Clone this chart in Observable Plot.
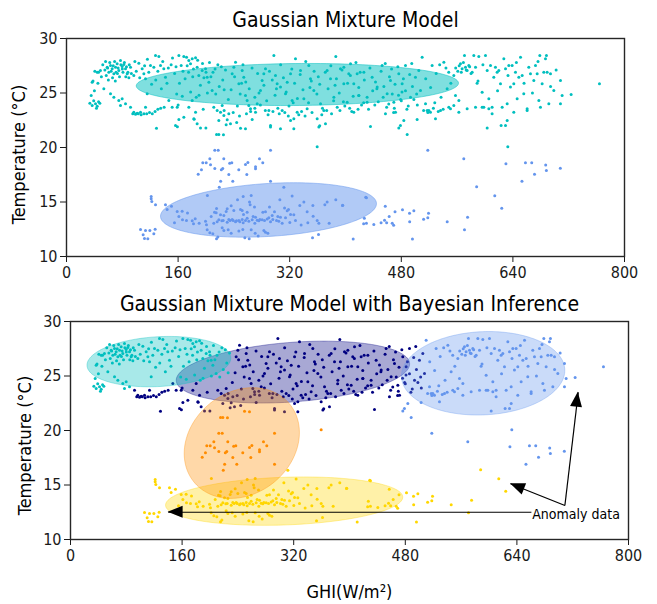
<!DOCTYPE html>
<html><head><meta charset="utf-8">
<script src="https://cdn.jsdelivr.net/npm/d3@7"></script>
<script src="https://cdn.jsdelivr.net/npm/@observablehq/plot@0.6"></script>
<style>
body{margin:0;background:#fff;}
#wrap{position:relative;width:657px;height:604px;overflow:hidden;}
#wrap > div{position:absolute;left:0;}
#wrap svg{font-stretch:condensed;}
</style></head><body><div id="wrap"><div id="p1" style="top:0"></div><div id="p2" style="top:290px"></div></div>
<script>
// ---- axis ticks ----
const xTicks = [0, 160, 320, 480, 640, 800];
const yTicks = [10, 15, 20, 25, 30];
const title1 = "Gaussian Mixture Model";
const title2 = "Gaussian Mixture Model with Bayesian Inference";
const xLabel = "GHI(W/m²)";
const yLabel = "Temperature (°C)";
const annotationText = "Anomaly data";

// ---- observations [GHI, temperature], grouped by the 5-component (Bayesian) assignment ----
const cyanPts = [[36.8,25.99],[35.4,24.77],[33.5,24.07],[36.8,23.85],[41.6,24.01],[44.0,23.79],[47.8,24.07],[40.6,27.0],[44.0,26.91],[48.7,27.06],[58.3,27.37],[60.7,26.91],[63.1,27.52],[65.5,27.22],[67.9,26.76],[70.3,27.37],[72.6,27.68],[75.0,27.06],[77.4,27.98],[79.8,27.43],[82.2,27.62],[84.6,27.22],[87.0,26.76],[89.4,26.39],[91.8,27.37],[96.5,26.61],[103.7,27.74],[108.5,27.22],[110.9,26.76],[113.3,26.3],[53.5,25.38],[63.1,24.92],[67.9,24.62],[75.0,24.31],[77.4,23.85],[79.8,24.47],[84.6,24.01],[115.7,24.92],[120.4,27.52],[125.2,27.37],[127.6,28.44],[132.4,28.35],[134.8,27.52],[139.5,27.22],[141.9,26.45],[161.1,28.44],[164.4,27.52],[168.2,28.35],[172.1,28.29],[175.4,27.98],[177.8,27.68],[180.2,28.14],[185.0,28.23],[187.3,27.37],[189.7,26.61],[194.5,27.06],[199.3,27.22],[201.7,26.45],[204.1,25.99],[208.8,25.23],[155,26.8],[162,25.9],[170,26.3],[178,25.1],[186,24.6],[192,25.7],[205,27.8],[210,26.9],[214,24.9],[219,25.6],[224,26.2],[228,27.1],[175,26.9],[182,27.2],[202,25.0],[217,27.6],[55,27.1],[57,26.6],[62,27.8],[66,26.4],[69,27.9],[71,26.9],[74,27.3],[76,26.5],[78,27.6],[81,26.9],[83,27.8],[86,27.4],[88,26.9],[93,26.8],[60,26.2],[70,26.1],[50,26.5],[46,26.9],[98,27.9],[105,26.4],[118,26.9],[122,25.8],[128,26.2],[136,25.4],[144,25.9],[150,27.6],[158,24.9],[166,24.7],[190,24.8],[197,26.4],[43,23.6],[39,24.3],[46,24.2],[38,26.1],[40,25.2],[45,25.9],[52,27.6],[56,27.9],[59,27.3],[64,27.0],[67,27.5],[73,26.8],[80,27.2],[85,26.5],[90,27.6],[100,27.0],[112,27.5],[116,28.1],[131,27.0],[138,27.9],[146,27.3],[152,28.2],[157,27.4],[167,27.0],[173,27.5],[181,26.5],[188,28.0],[195,27.7],[200,26.9],[207,26.5],[213,27.2],[222,27.4],[226,25.3]];

const navyPts = [[91.8,23.7],[95,23.1],[96.5,23.24],[99,23.05],[101.3,23.15],[103,23.1],[106.1,23.24],[107,23.0],[111,23.1],[113.3,23.7],[115,23.1],[119,23.2],[123,23.1],[127,23.3],[131,23.5],[135,23.6],[140,23.7],[146.7,24.31],[151.5,23.7],[158.7,23.7],[129.0,21.77],[156.3,22.02],[161.1,22.57],[168.2,22.78],[175.4,23.7],[180.2,24.31],[182.6,22.63],[187.3,22.17],[192.1,21.8],[199.8,21.8],[185.0,23.24],[211.2,23.7],[216.0,23.4],[218.4,22.48],[220.8,23.24],[223.2,23.85],[225.6,22.94],[228.9,22.08],[230.4,22.54],[232.7,23.09],[235.1,22.17],[237.5,26.76],[239.9,27.37],[242.3,27.83],[247.1,25.84],[251.9,27.06],[254.2,26.45],[256.6,24.77],[259.0,24.31],[261.4,23.85],[263.8,23.55],[266.2,22.57],[271.0,23.24],[273.4,24.01],[278.1,25.23],[280.5,26.15],[282.9,26.76],[285.3,27.22],[290.1,23.4],[292.5,22.02],[297.3,28.44],[299.6,26.61],[302.0,25.84],[306.8,25.54],[309.2,23.4],[314.0,24.92],[316.4,25.99],[321.2,26.76],[323.5,24.31],[325.9,22.63],[328.3,28.14],[330.7,23.24],[335.5,27.06],[340.3,24.47],[345.0,23.55],[347.4,27.52],[349.8,26.3],[354.6,25.23],[359.4,22.63],[361.8,21.87],[364.2,24.01],[368.9,23.4],[371.3,22.17],[373.7,27.06],[378.5,26.3],[383.3,24.62],[386.1,28.35],[388.1,23.7],[392.8,27.22],[397.6,25.84],[402.4,24.16],[407.2,27.68],[411.9,23.24],[416.7,26.76],[419.1,24.77],[292.5,21.87],[306.8,21.71],[325.9,21.71],[321.2,22.48],[232,24.4],[236,25.3],[241,26.5],[245,23.8],[249,24.9],[253,27.6],[257,26.0],[262,25.4],[266,27.3],[270,24.6],[274,26.8],[278,23.9],[283,25.7],[287,24.3],[291,27.0],[295,26.2],[299,24.8],[303,23.6],[307,27.6],[311,26.4],[315,25.1],[319,23.8],[323,27.2],[327,25.9],[331,24.5],[335,26.7],[339,25.3],[343,27.9],[347,24.1],[351,26.1],[355,27.0],[359,24.9],[363,25.8],[367,23.6],[371,26.9],[375,25.4],[379,27.5],[383,24.3],[387,26.3],[391,25.0],[395,27.1],[399,23.8],[403,25.9],[407,26.6],[411,24.7],[415,27.8],[419,25.5],[423,23.9],[427,26.2],[431,24.6],[435,27.3],[439,25.2],[443,26.0],[447,24.2],[451,27.0],[455,25.6],[459,23.7],[463,26.5],[467,24.9],[471,25.8],[475,27.4],[479,24.4],[483,26.3],[160,23.9],[196,23.5],[226,23.4],[239,23.2],[251,25.9],[264,23.3],[276,25.0],[289,23.0],[301,25.4],[313,23.2],[325,24.1],[337,23.3],[349,25.5],[361,26.5],[373,23.4],[385,25.7],[397,24.2],[409,23.3],[421,26.9],[433,23.5],[445,25.4],[457,27.7],[469,23.2],[481,25.1],[397.6,27.37],[404.7,26.76],[411.9,25.84],[419.1,24.77],[426.3,26.91],[431.0,24.16],[438.2,26.45],[445.4,25.54],[452.5,27.52],[459.7,24.92],[464.5,26.15],[469.3,24.16],[476.4,26.76],[481.2,25.84],[486.0,27.52],[493.2,24.62],[500.3,26.45],[505.1,27.06],[507.5,25.23],[435.8,21.93],[457.3,23.09],[471.7,23.24],[462,24.0],[470,23.6],[480,24.3],[490,23.8],[498,24.4],[159,21.9],[183,22.6],[363,22.0],[486,25.2],[492,26.7],[496,25.6],[502,24.9],[488,23.5],[495,27.7],[503,23.9],[476,24.8],[466,27.2],[454,24.6],[442,23.9],[426,24.1],[418,23.5],[406,23.6],[392,23.4],[380,23.1],[366,23.0],[352,23.2],[342,22.9],[333,23.0],[318,22.9],[305,23.1],[296,23.3],[285,23.4],[270,23.6],[258,23.1],[248,22.9],[244,22.3]];

const cornflowerPts = [[509.9,28.29],[514.7,24.01],[519.4,23.4],[524.2,27.52],[529.0,22.63],[536.2,23.4],[541.0,27.83],[545.7,25.38],[550.5,23.55],[557.7,24.77],[562.5,24.31],[555.3,26.61],[564.8,27.68],[567.2,27.22],[570.6,28.44],[572.0,27.37],[574.4,27.06],[576.8,27.52],[581.6,26.91],[584.0,28.44],[586.4,27.37],[588.7,25.9],[591.1,28.35],[595.9,25.08],[598.3,23.7],[600.7,28.44],[603.1,27.06],[605.5,24.47],[607.9,27.52],[610.2,23.7],[612.6,26.45],[615.0,27.37],[617.4,26.91],[619.8,27.06],[622.2,25.84],[624.6,23.7],[627.0,28.14],[629.4,27.22],[631.8,24.01],[634.1,27.52],[636.5,25.54],[638.9,27.52],[641.3,25.84],[643.7,26.91],[646.1,24.47],[648.5,26.45],[650.9,28.29],[653.3,26.61],[655.6,24.92],[660.4,23.4],[662.8,27.37],[665.2,26.76],[670.0,26.15],[672.4,27.52],[674.8,26.76],[677.2,24.31],[678.6,28.44],[679.5,23.7],[681.9,25.84],[684.3,26.91],[686.7,28.14],[688.1,28.44],[689.1,26.91],[691.5,24.01],[693.9,26.76],[698.7,25.23],[708.2,26.15],[708.2,24.01],[710.6,24.77],[723.5,24.86],[764.1,25.84],[476.4,21.8],[478.8,22.02],[483.6,22.48],[488.4,21.19],[502.7,22.57],[517.1,23.4],[521.8,23.24],[548.1,23.7],[555.3,23.85],[562.5,23.24],[574.4,23.55],[586.4,23.7],[595.9,23.7],[603.1,21.8],[605.5,23.55],[610.2,23.09],[623.1,22.02],[629.4,22.02],[631.8,22.48],[641.3,23.24],[660.4,23.55],[558,27.3],[561,27.0],[563,27.5],[566,26.9],[569,27.8],[573,27.1],[578,27.4],[580,26.8],[512,23.4],[518,23.2],[526,23.6],[533,23.3],[540,23.5],[515,26.3],[522,25.5],[530,26.8],[537,24.6],[544,27.3],[551,25.9],[528,24.1],[535,27.6],[548,26.9],[590,26.1],[597,27.6],[618,25.2],[633,26.6],[645,27.8],[656,25.9],[668,25.0],[676,27.9],[694,25.6],[702,27.1],[518,19.75],[569.6,18.96],[630,18.5],[658,18.6],[667,18.6],[687,18.4],[688,17.9],[708,18.1],[671,17.55],[653,16.9],[632.7,20.06]];

const orangePts = [[212.6,19.75],[217.5,19.75],[205.5,18.96],[225.5,18.96],[292.5,19.75],[195.4,18.6],[200.3,18.6],[188.8,17.55],[193.5,17.95],[206.5,18.41],[212.6,18.07],[222,17.95],[224,18.07],[232.7,17.52],[234,18.56],[237,18.6],[238.4,16.9],[221,16.9],[219,16.36],[247,17.95],[256.6,18.44],[260,18.62],[258.5,17.52],[271,18.05],[271,18.23],[276.7,18.96],[281.4,18.6],[292.5,16.9],[359.4,20.06],[215.1,21.19],[218.4,21.19],[249.5,21.77],[256.6,21.71],[225,21.18]];

const goldPts = [[121.4,15.5],[121.4,15.29],[122.3,15.05],[127.6,14.74],[141.9,14.74],[150.5,14.62],[144.3,14.31],[158.7,14.13],[165.8,14.16],[161.1,13.67],[154.8,13.09],[166.3,13.37],[172.0,13.30],[173.5,13.98],[180.2,13.27],[184.5,13.46],[190.2,13.06],[199.3,13.24],[182.1,13.0],[212.2,14.07],[207.4,13.67],[214.6,14.01],[215.1,14.41],[220.8,13.82],[218.4,13.37],[222.7,13.27],[228.9,14.13],[230.4,13.15],[234.6,13.30],[237.5,13.39],[239.9,14.22],[236.1,14.65],[243.7,13.27],[245.2,15.2],[253.3,15.5],[249.5,14.31],[248.5,13.18],[253.3,13.09],[253.8,13.85],[259.0,13.52],[262.4,14.99],[263.3,14.74],[264.8,15.6],[269.5,14.53],[267.6,13.67],[270.0,13.06],[273.4,13.33],[277.2,13.39],[281.5,14.07],[285.3,14.10],[291.0,14.53],[290.1,13.55],[292.5,13.18],[295.8,13.39],[298.2,14.10],[303.0,13.67],[304.4,13.24],[305.9,15.2],[309.2,13.06],[311.6,16.36],[312.6,14.44],[316.4,14.19],[318.3,14.31],[320.2,13.12],[323.5,15.54],[325.9,13.82],[334.5,14.68],[336.4,12.88],[340.3,14.99],[345.0,14.10],[346.0,13.09],[353.2,14.68],[353.6,13.70],[359.4,13.30],[361.8,13.06],[370.4,14.74],[373.7,14.99],[376.6,13.06],[386.1,15.2],[395.7,14.68],[106.1,12.48],[109.9,11.99],[113.3,12.39],[116.6,11.62],[119.5,12.39],[125.2,12.08],[127.1,12.51],[111.8,11.65],[201.7,12.45],[205.5,12.17],[209.8,12.08],[215.1,11.62],[217.0,11.78],[223.2,12.63],[225.6,12.39],[231.8,12.45],[236.1,12.14],[247.1,12.33],[252.8,12.48],[255.7,11.71],[261.9,11.62],[264.8,12.45],[270.5,12.14],[274.8,11.87],[283.0,12.39],[285.3,12.23],[288.7,12.14],[352.7,11.71],[361.3,12.02],[200.7,12.91],[211.2,13.06],[216.0,13.18],[224.6,13.30],[232.7,13.39],[239.0,13.30],[242.3,13.18],[247.1,13.30],[251.9,13.39],[256.6,13.30],[261.4,13.24],[266.2,13.37],[275.8,13.27],[280.5,13.37],[283.9,13.30],[287.7,13.43],[301.1,13.30],[306.8,13.61],[314.0,13.55],[321.2,13.85],[328.3,13.30],[294.9,13.76],[271.0,13.61],[259.0,14.07],[251.9,14.22],[230.4,14.37],[225.6,13.76],[202,15.6],[588,16.4],[614,15.57],[624,14.43],[575,13.6],[570.6,12.45],[545.8,13.18],[519,13.97],[518,13.55],[512,13.42],[496,11.6],[498,14.2],[491.8,13.97],[492,13.18],[481.7,14.3],[471,14.1],[462.6,13.67],[457,14.6],[456,13.33],[451,13.1],[440.6,12.94],[427,13.5],[426,13.0],[430,13.05],[467,13.05],[469,12.87],[459,13.1],[429,15.44],[430,15.4],[411,11.6],[396,14.7]];

// ---- fitted Gaussian components: centre (cx, cy) and two conjugate semi-axes u, v (data units) ----
const gmmComponents = [
  {color: "#6495ED", cx: 289.6, cy: 14.27, ux: 150.6, uy: 0, vx: 35.8, vy: 2.50},
  {color: "#00BFBF", cx: 331.0, cy: 25.78, ux: 230.5, uy: 0, vx: 15.0, vy: 1.93}
];
const bgmmComponents = {
  navy:       {color: "#000080", cx: 318.9, cy: 25.36, ux: 161.3, uy: 0, vx: 44.4, vy: 2.84},
  cyan:       {color: "#00BFBF", cx: 126.7, cy: 26.32, ux: 102.0, uy: 0, vx: 14.4, vy: 2.31},
  cornflower: {color: "#6495ED", cx: 591.6, cy: 25.25, ux: 116.8, uy: 0, vx: 8.0,  vy: 3.83},
  gold:       {color: "#FFD700", cx: 306.3, cy: 13.52, ux: 167.7, uy: 0, vx: 28.0, vy: 2.22},
  orange:     {color: "#FF8C00", cx: 245.6, cy: 18.85, ux: 81.1,  uy: 0, vx: 15.6, vy: 5.08}
};

// ---- annotation arrows (data coords: from text to target) ----
const anomalyArrows = [
  {x1: 660.8, y1: 12.50, x2: 140.0, y2: 12.50},
  {x1: 708.8, y1: 13.12, x2: 630.8, y2: 15.11},
  {x1: 708.8, y1: 13.12, x2: 728.0, y2: 23.51}
];
const annotationPos = {x: 662, y: 12.25};

// ---------------------------------------------------------------
const FONT = '"DejaVu Sans Condensed", "DejaVu Sans", sans-serif';
const toRows = pts => pts.map(([x, y]) => ({x, y}));
const allPts = [...cyanPts, ...navyPts, ...cornflowerPts, ...orangePts, ...goldPts];

function ellipseOutline(e) {
  const out = [];
  const n = 160;
  for (let i = 0; i < n; i++) {
    const t = (2 * Math.PI * i) / n;
    out.push({x: e.cx + e.ux * Math.cos(t) + e.vx * Math.sin(t), y: e.cy + e.uy * Math.cos(t) + e.vy * Math.sin(t)});
  }
  return out;
}
function ellipseMark(e, alpha) {
  return Plot.line(ellipseOutline(e), {x: "x", y: "y", curve: "linear-closed", fill: e.color, fillOpacity: alpha, stroke: e.color, strokeOpacity: alpha, strokeWidth: 1});
}
function dotsMark(rows, color) {
  return Plot.dot(rows, {x: "x", y: "y", r: 1.5, fill: color, stroke: "none"});
}
function arrowHeads(arrows) {
  return (index, scales, values, dimensions, context) => {
    const ns = "http://www.w3.org/2000/svg";
    const doc = (context && context.document) || document;
    const g = doc.createElementNS(ns, "g");
    const {width, height, marginLeft, marginRight, marginTop, marginBottom} = dimensions;
    const fx = scales && scales.x ? scales.x : v => marginLeft + (v / 800) * (width - marginLeft - marginRight);
    const fy = scales && scales.y ? scales.y : v => height - marginBottom - ((v - 10) / 20) * (height - marginTop - marginBottom);
    for (const a of arrows) {
      const x1 = fx(a.x1), y1 = fy(a.y1), x2 = fx(a.x2), y2 = fy(a.y2);
      const len = Math.hypot(x2 - x1, y2 - y1), ux = (x2 - x1) / len, uy = (y2 - y1) / len;
      const L = 15, W = 6, bx = x2 - ux * L, by = y2 - uy * L;
      const p = doc.createElementNS(ns, "path");
      p.setAttribute("d", `M${x2},${y2}L${bx - uy * W},${by + ux * W}L${bx + uy * W},${by - ux * W}Z`);
      p.setAttribute("fill", "#000");
      g.appendChild(p);
    }
    return g;
  };
}
const common = {
  width: 657,
  style: {fontFamily: FONT, fontSize: "16px", color: "#1a1a1a", background: "#fff", overflow: "visible"}
};
const axisX = {domain: [0, 800], ticks: xTicks, tickFormat: d => String(d), tickSize: 6, tickPadding: 4, label: null};
const axisY = {domain: [10, 30], ticks: yTicks, tickFormat: d => String(d), tickSize: 6, tickPadding: 3, label: null};

// ---- panel 1: two-component GMM (split by temperature level) ----
const warm = toRows(allPts.filter(([, t]) => t >= 20));
const cool = toRows(allPts.filter(([, t]) => t < 20));
const plot1 = Plot.plot({
  ...common,
  height: 290,
  marginLeft: 66, marginRight: 33, marginTop: 38, marginBottom: 34,
  x: axisX, y: axisY,
  marks: [
    dotsMark(cool, gmmComponents[0].color),
    ellipseMark(gmmComponents[0], 0.5),
    dotsMark(warm, gmmComponents[1].color),
    ellipseMark(gmmComponents[1], 0.5),
    Plot.frame({stroke: "#262626", strokeWidth: 1.4}),
    Plot.text([title1], {text: d => d, frameAnchor: "top", lineAnchor: "bottom", dy: -11.5, fontSize: 21, fill: "#000"}),
    Plot.text([yLabel], {text: d => d, frameAnchor: "left", textAnchor: "middle", rotate: -90, dx: -47.5, dy: 7, fontSize: 18, fill: "#000"})
  ]
});
document.getElementById("p1").appendChild(plot1);

// ---- panel 2: five-component Bayesian GMM ----
const order = ["navy", "cyan", "cornflower", "gold", "orange"];
const groups = {navy: navyPts, cyan: cyanPts, cornflower: cornflowerPts, gold: goldPts, orange: orangePts};
const marks2 = [];
for (const k of order) {
  marks2.push(dotsMark(toRows(groups[k]), bgmmComponents[k].color));
  marks2.push(ellipseMark(bgmmComponents[k], 0.34));
}
const plot2 = Plot.plot({
  ...common,
  height: 314,
  marginLeft: 70, marginRight: 29, marginTop: 31, marginBottom: 65,
  x: axisX, y: axisY,
  marks: [
    ...marks2,
    Plot.link(anomalyArrows, {x1: "x1", y1: "y1", x2: "x2", y2: "y2", stroke: "#000", strokeWidth: 1.2}),
    arrowHeads(anomalyArrows),
    Plot.text([annotationText], {x: () => annotationPos.x, y: () => annotationPos.y, text: d => d, textAnchor: "start", fontSize: 14, fill: "#000"}),
    Plot.frame({stroke: "#262626", strokeWidth: 1.4}),
    Plot.text([title2], {text: d => d, frameAnchor: "top", lineAnchor: "bottom", dy: -11, fontSize: 21, fill: "#000"}),
    Plot.text([yLabel], {text: d => d, frameAnchor: "left", textAnchor: "middle", rotate: -90, dx: -45, dy: 15, fontSize: 18, fill: "#000"}),
    Plot.text([xLabel], {text: d => d, frameAnchor: "bottom", lineAnchor: "bottom", dy: 58, fontSize: 18, fill: "#000"})
  ]
});
document.getElementById("p2").appendChild(plot2);
</script></body></html>
